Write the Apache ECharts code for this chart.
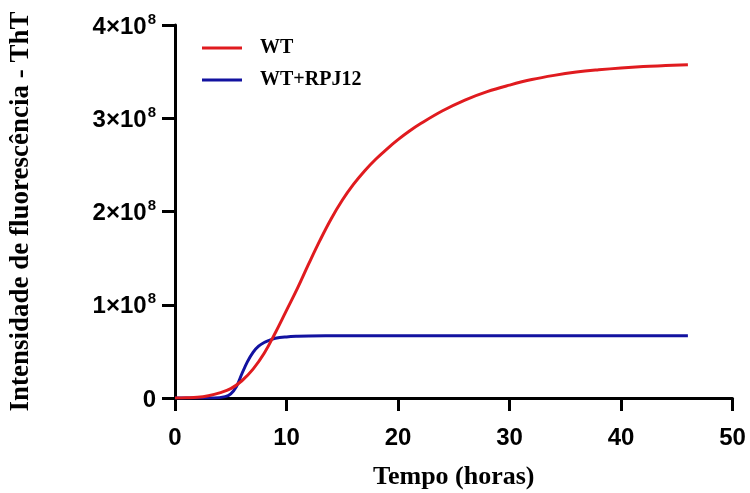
<!DOCTYPE html>
<html>
<head>
<meta charset="utf-8">
<script src="https://cdn.jsdelivr.net/npm/echarts@6/dist/echarts.min.js"></script>
<style>html,body{margin:0;padding:0;background:#fff}#c{width:750px;height:493px}</style>
</head>
<body>
<div id="c"></div>
<script>
// Data (x in hours, y in units of 1e8)
const wtHours = [0, 1, 2, 3, 4, 5, 6, 7, 8, 9, 10, 11, 12, 13, 14, 15, 16, 17, 18, 19, 20, 21, 22, 24, 26, 28, 30, 32, 34, 36, 38, 40, 42, 44, 46];
const wtValues = [0, 0.003, 0.008, 0.025, 0.055, 0.10, 0.185, 0.31, 0.48, 0.70, 0.94, 1.18, 1.44, 1.69, 1.92, 2.12, 2.29, 2.435, 2.56, 2.67, 2.77, 2.86, 2.94, 3.08, 3.195, 3.285, 3.355, 3.415, 3.46, 3.495, 3.52, 3.54, 3.555, 3.565, 3.575];
const rpjHours = [0, 3.5, 4.5, 5, 5.5, 6, 6.5, 7, 7.5, 8, 8.5, 9, 10, 11, 12, 15, 20, 30, 46];
const rpjValues = [0, 0, 0.015, 0.045, 0.12, 0.26, 0.39, 0.49, 0.555, 0.595, 0.62, 0.64, 0.655, 0.662, 0.665, 0.667, 0.668, 0.668, 0.668];
const seriesNames = ['WT', 'WT+RPJ12'];
const xTicks = [0, 10, 20, 30, 40, 50];
const yTicks = [0, 1, 2, 3, 4]; // ×10^8
const SCALE = 1e8;

const pairs = (xs, ys) => xs.map((x, i) => [x, ys[i] * SCALE]);

const chart = echarts.init(document.getElementById('c'), null, {renderer: 'canvas'});
const axisFont = {fontFamily: 'Liberation Sans', fontWeight: 'bold', fontSize: 24, color: '#000'};
chart.setOption({
  animation: false,
  backgroundColor: '#fff',
  grid: {left: 175, right: 17.5, top: 25, bottom: 95, containLabel: false, outerBoundsMode: 'none'},
  legend: {
    orient: 'vertical', left: 197, top: 33,
    itemWidth: 40, itemHeight: 3, icon: 'rect', itemGap: 12,
    textStyle: {fontFamily: 'Liberation Serif', fontWeight: 'bold', fontSize: 20, color: '#000', padding: [0, 0, 0, 13]},
    data: seriesNames
  },
  xAxis: {
    type: 'value', min: xTicks[0], max: xTicks[xTicks.length - 1], interval: 10,
    name: 'Tempo (horas)', nameLocation: 'middle', nameGap: 66,
    nameTextStyle: {fontFamily: 'Liberation Serif', fontWeight: 'bold', fontSize: 26, color: '#000'},
    axisLine: {onZero: false, lineStyle: {color: '#000', width: 3}},
    axisTick: {inside: false, length: 13, lineStyle: {color: '#000', width: 3}},
    axisLabel: Object.assign({margin: 28}, axisFont),
    splitLine: {show: false}
  },
  yAxis: {
    type: 'value', min: 0, max: yTicks[yTicks.length - 1] * SCALE, interval: SCALE,
    name: 'Intensidade de fluorescência - ThT', nameLocation: 'middle', nameGap: 140,
    nameTextStyle: {fontFamily: 'Liberation Serif', fontWeight: 'bold', fontSize: 27, color: '#000'},
    axisLine: {show: true, lineStyle: {color: '#000', width: 3}},
    axisTick: {show: true, inside: false, length: 13, lineStyle: {color: '#000', width: 3}},
    axisLabel: {
      margin: 19,
      formatter: v => v === 0 ? '{a|0}' : '{a|' + Math.round(v / SCALE) + '×10}{b|8}',
      rich: {
        a: {fontFamily: 'Liberation Sans', fontWeight: 'bold', fontSize: 24, color: '#000', lineHeight: 26, padding: [4, 0, 0, 0]},
        b: {fontFamily: 'Liberation Sans', fontWeight: 'bold', fontSize: 15, color: '#000', verticalAlign: 'top', lineHeight: 26, padding: [0, 0, 10, 1]}
      }
    },
    splitLine: {show: false}
  },
  series: [
    {name: seriesNames[0], type: 'line', data: pairs(wtHours, wtValues), smooth: 0.4,
     showSymbol: false, lineStyle: {color: '#e01b1f', width: 3}, itemStyle: {color: '#e01b1f'}, z: 3},
    {name: seriesNames[1], type: 'line', data: pairs(rpjHours, rpjValues), smooth: 0.4,
     showSymbol: false, lineStyle: {color: '#1212a0', width: 3}, itemStyle: {color: '#1212a0'}, z: 2}
  ]
});
</script>
</body>
</html>
